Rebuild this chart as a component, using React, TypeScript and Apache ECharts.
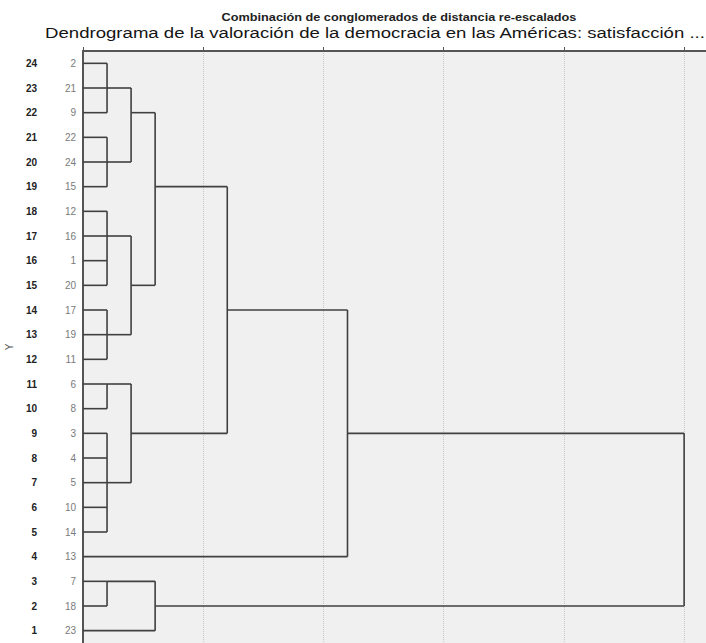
import React, { useEffect, useRef } from "react";
import * as echarts from "echarts";

// Row numbers of the Y axis (bottom to top)
const rowLabels = ["1","2","3","4","5","6","7","8","9","10","11","12","13","14","15","16","17","18","19","20","21","22","23","24"];
// Case labels, top to bottom
const caseLabels = ["2","21","9","22","24","15","12","16","1","20","17","19","11","6","8","3","4","5","10","14","13","7","18","23"];
// Merges: children (case labels or node ids "nK"), rescaled distance, row of the outgoing link
const mergeChildren: string[][] = [
  ["2","21","9"],
  ["22","24","15"],
  ["12","16","1","20"],
  ["17","19","11"],
  ["6","8"],
  ["3","4","5","10","14"],
  ["7","18"],
  ["n0","n1"],
  ["n2","n3"],
  ["n4","n5"],
  ["n6","23"],
  ["n7","n8"],
  ["n11","n9"],
  ["n12","13"],
  ["n13","n10"],
];
const mergeDistances = [1,1,1,1,1,1,1,2,2,2,3,3,6,11,25];
const mergeOutRows = [23,20,17,13,11,7,3,22,15,9,2,19,14,9,0];
const xTicks = [0,5,10,15,20,25];

const titleText = "Dendrograma de la valoración de la democracia en las Américas: satisfacción ...";
const axisTitle = "Combinación de conglomerados de distancia re-escalados";

function buildSegments(): number[][] {
  const rowOf: Record<string, number> = {};
  caseLabels.forEach((c, i) => { rowOf[c] = caseLabels.length - i; });
  const ref = (r: string) => {
    if (r.startsWith("n")) {
      const k = parseInt(r.slice(1), 10);
      return { row: mergeOutRows[k], dist: mergeDistances[k] };
    }
    return { row: rowOf[r], dist: 0 };
  };
  const segs: number[][] = [];
  mergeChildren.forEach((children, i) => {
    const d = mergeDistances[i];
    const cs = children.map(ref);
    const rows = cs.map((c) => c.row);
    segs.push([d, Math.min(...rows), d, Math.max(...rows)]);
    cs.forEach((c) => segs.push([c.dist, c.row, d, c.row]));
  });
  return segs;
}

export default function App() {
  const ref = useRef<HTMLDivElement>(null);
  useEffect(() => {
    document.body.style.margin = "0";
    const chart = echarts.init(ref.current!, null, { renderer: "svg" });
    const segs = buildSegments();
    const font = "Liberation Sans, Arial, sans-serif";
    chart.setOption({
      animation: false,
      backgroundColor: "#ffffff",
      textStyle: { fontFamily: font },
      graphic: [
        {
          type: "text",
          x: 399,
          y: 18,
          scaleX: 1.27,
          style: {
            text: axisTitle,
            fontSize: 10,
            fontWeight: "bold",
            fill: "#222",
            align: "center",
            verticalAlign: "middle",
            fontFamily: font,
          },
        },
        {
          type: "text",
          x: 375,
          y: 33.5,
          scaleX: 1.24,
          style: {
            text: titleText,
            fontSize: 15,
            fill: "#151515",
            align: "center",
            verticalAlign: "middle",
            fontFamily: font,
          },
        },
      ],
      grid: {
        left: 83,
        right: 0,
        top: 51,
        bottom: 0,
        containLabel: false,
        outerBoundsMode: "none",
        show: true,
        backgroundColor: "#f0f0f0",
        borderWidth: 0,
      },
      xAxis: {
        type: "value",
        position: "top",
        min: xTicks[0],
        max: 25.91,
        interval: xTicks[1] - xTicks[0],
        axisLine: { show: true, lineStyle: { color: "#555", width: 2 } },
        axisTick: { show: true, length: 4, lineStyle: { color: "#555" } },
        axisLabel: { show: false },
        splitLine: { show: true, lineStyle: { color: "#c8c8c8", type: "dotted", width: 1 } },
      },
      yAxis: [
        {
          type: "category",
          data: rowLabels,
          position: "left",
          name: "Y",
          nameLocation: "middle",
          nameRotate: 90,
          nameGap: 58,
          nameTextStyle: { fontSize: 10, color: "#555" },
          axisLine: { show: true, lineStyle: { color: "#555", width: 2 } },
          axisTick: { show: false },
          axisLabel: { margin: 46, fontSize: 10, color: "#222", fontWeight: "bold" },
          splitLine: { show: false },
        },
        {
          type: "category",
          data: caseLabels.slice().reverse(),
          position: "left",
          axisLine: { show: false },
          axisTick: { show: false },
          axisLabel: { margin: 7, fontSize: 10, color: "#7a7a7a" },
          splitLine: { show: false },
        },
        {
          type: "value",
          min: 0.5,
          max: 24.5,
          show: false,
          splitLine: { show: false },
        },
      ],
      series: [
        {
          type: "custom",
          xAxisIndex: 0,
          yAxisIndex: 2,
          data: segs,
          encode: { x: [0, 2], y: [1, 3] },
          renderItem: (params: any, api: any) => {
            const p1 = api.coord([api.value(0), api.value(1)]);
            const p2 = api.coord([api.value(2), api.value(3)]);
            return {
              type: "line",
              shape: { x1: p1[0], y1: p1[1], x2: p2[0], y2: p2[1] },
              style: { stroke: "#404040", lineWidth: 1.6 },
            };
          },
        },
      ],
    });
    return () => chart.dispose();
  }, []);
  return <div ref={ref} style={{ width: 706, height: 643 }} />;
}
